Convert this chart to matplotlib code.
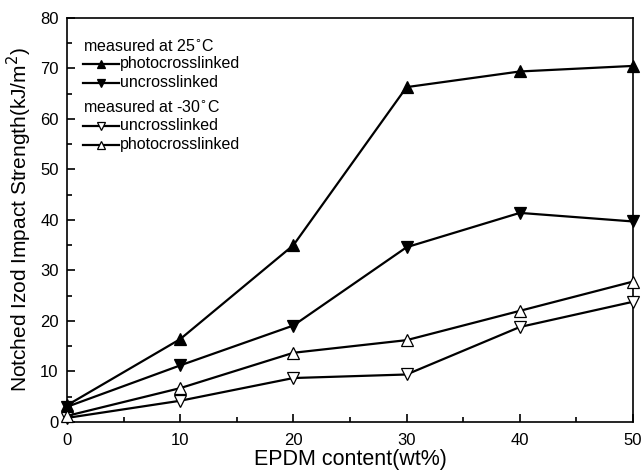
import matplotlib
matplotlib.use('Agg')
import matplotlib.pyplot as plt
from matplotlib.ticker import MultipleLocator

plt.rcParams['font.family'] = ['Liberation Sans', 'DejaVu Sans']

########## EPDM content and impact strength ##########
epdm = [0, 10, 20, 30, 40, 50]
photo_25 = [3.3, 16.4, 35.0, 66.3, 69.4, 70.5]
uncross_25 = [3.0, 11.2, 19.1, 34.6, 41.4, 39.7]
uncross_m30 = [0.8, 4.2, 8.7, 9.4, 18.8, 23.8]
photo_m30 = [1.2, 6.7, 13.7, 16.2, 22.0, 27.8]

series = [
    ('photocrosslinked', photo_25, '^', 'k'),
    ('uncrosslinked', uncross_25, 'v', 'k'),
    ('uncrosslinked', uncross_m30, 'v', 'w'),
    ('photocrosslinked', photo_m30, '^', 'w'),
]

fig = plt.figure(figsize=(6.41, 4.72), dpi=100)
ax = fig.add_axes([0.1045, 0.106, 0.883, 0.856])

for label, vals, mk, fc in series:
    ax.plot(epdm, vals, '-', color='k', lw=1.6, marker=mk, ms=8.5,
            mfc=fc, mec='k', mew=0.9, clip_on=False, zorder=3)

ax.set_xlim(0, 50)
ax.set_ylim(0, 80)
ax.xaxis.set_major_locator(MultipleLocator(10))
ax.xaxis.set_minor_locator(MultipleLocator(5))
ax.yaxis.set_major_locator(MultipleLocator(10))
ax.yaxis.set_minor_locator(MultipleLocator(5))
ax.tick_params(which='both', direction='in', top=False, right=False,
               labelsize=12, width=1.2)
ax.tick_params(which='major', length=6)
ax.tick_params(which='minor', length=3.5)
ax.tick_params(axis='x', pad=8)
ax.tick_params(axis='y', pad=6)
for s in ax.spines.values():
    s.set_linewidth(1.2)

ax.set_xlabel('EPDM content(wt%)', fontsize=15.5, labelpad=1)
ax.set_ylabel('Notched Izod Impact Strength(kJ/m$^2$)', fontsize=15,
              labelpad=4)

########## hand-made legend block ##########
rows_y = [0.931, 0.886, 0.839, 0.780, 0.733, 0.686]
headers = {0: 'measured at 25$^{\\circ}$C', 3: 'measured at -30$^{\\circ}$C'}
entry_rows = [1, 2, 4, 5]
for i, txt in headers.items():
    ax.text(0.028, rows_y[i], txt, transform=ax.transAxes, fontsize=11.5,
            va='center', ha='left')
for r, (label, vals, mk, fc) in zip(entry_rows, series):
    y = rows_y[r]
    ax.plot([0.028, 0.092], [y, y], '-', color='k', lw=1.6,
            transform=ax.transAxes)
    ax.plot([0.060], [y], marker=mk, ms=6, mfc=fc, mec='k', mew=0.9,
            transform=ax.transAxes)
    ax.text(0.093, y, label, transform=ax.transAxes, fontsize=11.5,
            va='center', ha='left')

fig.savefig('out.png', dpi=100)
